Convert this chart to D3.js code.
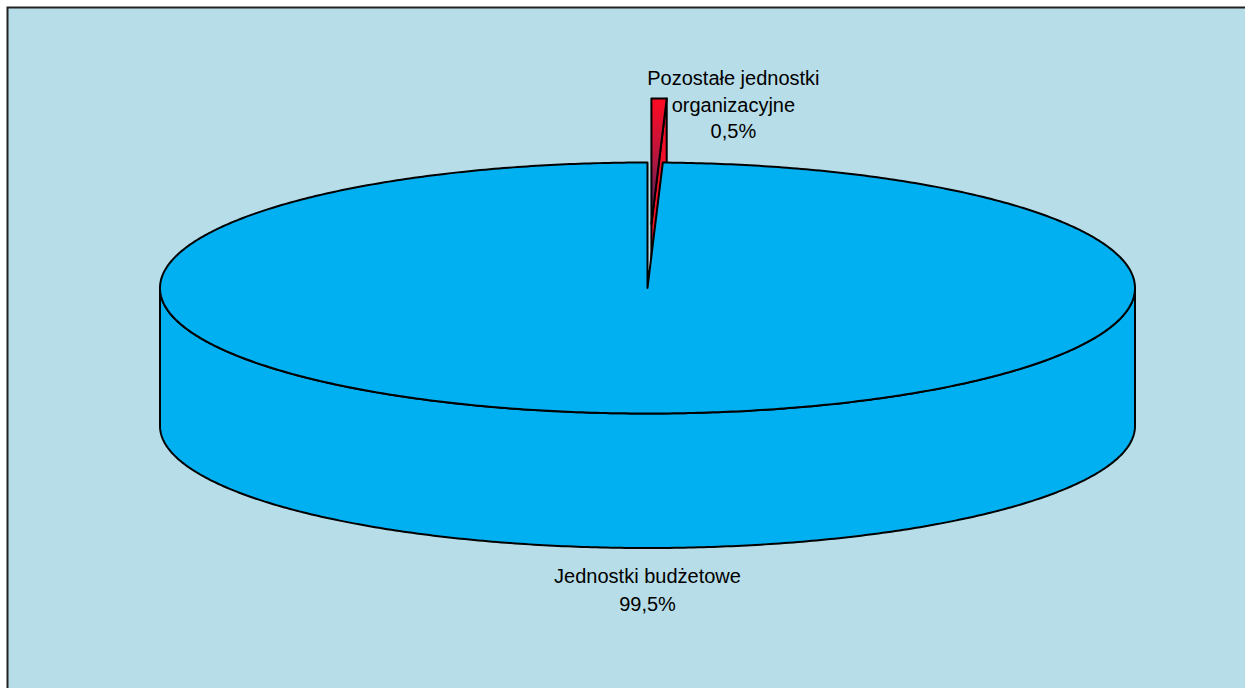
<!DOCTYPE html>
<html>
    <head>
        <meta charset="utf-8">
        <title>Struktura jednostek</title>
        <style>
            body, html {
              margin: 0;
              padding: 0;
              overflow: hidden;
              background: #ffffff;
            }
            text {
              font-family: "Liberation Sans", Arial, sans-serif;
              font-size: 20px;
              fill: #000;
            }
        </style>
    </head>
    <body>

        <svg id="svg" width="1245" height="688"></svg>

        <script src="https://d3js.org/d3.v7.min.js"></script>
        <script>
            // data
            const categories = ['Jednostki budżetowe', 'Pozostałe jednostki organizacyjne']
            const values = [99.5, 0.5]
            const percentLabels = ['99,5%', '0,5%']
            const labelLines = [['Jednostki budżetowe'], ['Pozostałe jednostki', 'organizacyjne']]

            const colors = ['#00b0f0', '#f0102a']

            const svg = d3.select('#svg')

            // background + frame
            svg.append('rect')
                .attr('x', 0).attr('y', 0)
                .attr('width', 1245).attr('height', 688)
                .attr('fill', '#ffffff')
            svg.append('rect')
                .attr('x', 7.5).attr('y', 7.5)
                .attr('width', 1260).attr('height', 700)
                .attr('fill', '#b7dde8')
                .attr('stroke', '#222')
                .attr('stroke-width', 2)

            // gradient for the red slice top
            const defs = svg.append('defs')
            const grad = defs.append('linearGradient')
                .attr('id', 'redGrad')
                .attr('gradientUnits', 'userSpaceOnUse')
                .attr('x1', 0).attr('y1', 98)
                .attr('x2', 0).attr('y2', 228)
            grad.append('stop').attr('offset', '0%').attr('stop-color', '#ff0a22')
            grad.append('stop').attr('offset', '45%').attr('stop-color', '#b8163e')
            grad.append('stop').attr('offset', '100%').attr('stop-color', '#3a2266')

            // 3d ellipse geometry
            const cx = 647.5, cy = 288
            const rx = 487.5, ry = 125.5
            const depth = 138, ryBottom = 122
            const explode = 0.51

            const total = d3.sum(values)
            // small slice sits just right of 12 o'clock, so start after it
            const start = values[1] / total * 2 * Math.PI
            const pie = d3.pie().sort(null)
                .startAngle(start)
                .endAngle(start + 2 * Math.PI)
            const arcs = pie(values)

            function pt(a, k, h, ox, oy) {
                const ryh = ry + (ryBottom - ry) * h / depth
                return [cx + ox + rx * k * Math.sin(a), cy + oy + h - ryh * k * Math.cos(a)]
            }

            function samples(a0, a1, h, ox, oy) {
                const n = Math.max(2, Math.ceil(Math.abs(a1 - a0) / 0.01))
                return d3.range(n + 1).map(i => pt(a0 + (a1 - a0) * i / n, 1, h, ox, oy))
            }

            const line = d3.line()

            function topFace(d, ox, oy) {
                const pts = [pt(0, 0, 0, ox, oy)].concat(samples(d.startAngle, d.endAngle, 0, ox, oy))
                return line(pts) + 'Z'
            }

            function sideWall(d, ox, oy) {
                const a0 = Math.max(d.startAngle, Math.PI / 2)
                const a1 = Math.min(d.endAngle, 3 * Math.PI / 2)
                if (a1 <= a0) return null
                const pts = samples(a0, a1, 0, ox, oy).concat(samples(a1, a0, depth, ox, oy))
                return line(pts) + 'Z'
            }

            function radialFace(a, ox, oy) {
                const pts = [pt(a, 0, 0, ox, oy), pt(a, 1, 0, ox, oy), pt(a, 1, depth, ox, oy), pt(a, 0, depth, ox, oy)]
                return line(pts) + 'Z'
            }

            const g = svg.append('g')
                .attr('stroke', '#000')
                .attr('stroke-width', 2)
                .attr('stroke-linejoin', 'round')

            // exploded small slice (drawn first, it sits behind)
            const small = arcs[1]
            const mid = (small.startAngle + small.endAngle) / 2
            const sox = rx * explode * Math.sin(mid)
            const soy = -ry * explode * Math.cos(mid)

            g.append('path')
                .attr('d', radialFace(small.endAngle, sox, soy))
                .attr('fill', colors[1])
            g.append('path')
                .attr('d', topFace(small, sox, soy))
                .attr('fill', 'url(#redGrad)')

            // big slice
            const big = arcs[0]
            g.append('path')
                .attr('d', sideWall(big, 0, 0))
                .attr('fill', colors[0])
            g.append('path')
                .attr('d', topFace(big, 0, 0))
                .attr('fill', colors[0])

            // labels
            const lineH = 27.5
            const bigBottom = pt(Math.PI, 1, depth, 0, 0)
            const bigLabel = svg.append('text')
                .attr('text-anchor', 'middle')
            labelLines[0].concat([percentLabels[0]]).forEach((t, i) => {
                bigLabel.append('tspan')
                    .attr('x', bigBottom[0])
                    .attr('y', bigBottom[1] + 35 + i * lineH)
                    .text(t)
            })

            const smallTop = pt(small.startAngle, 1, 0, sox, soy)
            const smallLabel = svg.append('text')
                .attr('text-anchor', 'middle')
            labelLines[1].concat([percentLabels[1]]).forEach((t, i) => {
                smallLabel.append('tspan')
                    .attr('x', smallTop[0] + 82)
                    .attr('y', smallTop[1] - 13.5 + i * 26.5)
                    .text(t)
            })
        </script>
    </body>
</html>
